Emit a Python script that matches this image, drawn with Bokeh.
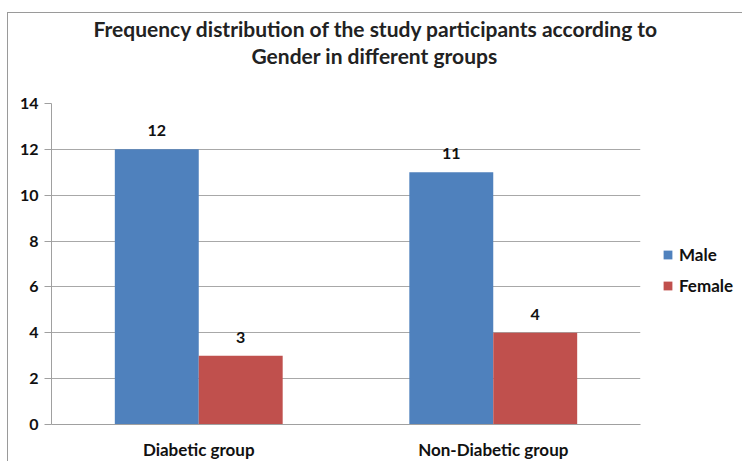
from bokeh.plotting import figure
from bokeh.models import (ColumnDataSource, FactorRange, FixedTicker, Legend, LegendItem,
                          LabelSet, Title)
from bokeh.core.properties import value
from bokeh.transform import dodge
from bokeh.embed import file_html
from bokeh.resources import INLINE

groups = ["Diabetic group", "Non-Diabetic group"]
male = [12, 11]
female = [3, 4]
series = ["Male", "Female"]
colors = ["#4F81BD", "#C0504D"]
title_lines = ["Frequency distribution of the study participants according to",
               "Gender in different groups"]
yticks = [0, 2, 4, 6, 8, 10, 12, 14]

src = ColumnDataSource(dict(groups=groups, male=male, female=female,
                            male_txt=[str(v) for v in male],
                            female_txt=[str(v) for v in female]))

FONT = "Lato"
LBL = "16px"
LBL2 = "17px"

p = figure(frame_width=589, frame_height=321, x_range=FactorRange(*groups, range_padding=0),
           y_range=(0, 14), output_backend="svg", toolbar_location=None,
           min_border_left=43, min_border_right=102, min_border_top=90, min_border_bottom=34)
p.title = None
p.styles = {"border-left": "1px solid #9a9a9a", "border-top": "1px solid #9a9a9a",
            "margin-left": "7px", "margin-top": "12px"}

spacer = Title(text=" ", text_font_size="2px", standoff=32)
t2 = Title(text=title_lines[1], align="left", vertical_align="bottom", text_font=FONT,
           text_font_size="21px", text_font_style="bold", text_color="#222222",
           offset=200, standoff=0)
t1 = Title(text=title_lines[0], align="left", vertical_align="bottom", text_font=FONT,
           text_font_size="21px", text_font_style="bold", text_color="#222222",
           offset=42, standoff=0)
p.add_layout(spacer, "above")
p.add_layout(t2, "above")
p.add_layout(t1, "above")

w = 0.285
r1 = p.vbar(x=dodge("groups", -w / 2, range=p.x_range), top="male", width=w, source=src,
            fill_color=colors[0], line_color=None)
r2 = p.vbar(x=dodge("groups", w / 2, range=p.x_range), top="female", width=w, source=src,
            fill_color=colors[1], line_color=None)

for col, txt, off in (("male", "male_txt", -w / 2), ("female", "female_txt", w / 2)):
    lab = LabelSet(x=dodge("groups", off, range=p.x_range), y=col, text=txt, source=src,
                   text_align="center", text_baseline="bottom", y_offset=13,
                   text_font=value(FONT), text_font_size=value(LBL),
                   text_font_style=value("bold"), text_color="#111111")
    p.add_layout(lab)

legend = Legend(items=[LegendItem(label=series[0], renderers=[r1]),
                       LegendItem(label=series[1], renderers=[r2])],
                location=(22, 128), border_line_color=None, background_fill_alpha=0,
                label_text_font=FONT, label_text_font_size=LBL2, label_text_font_style="bold",
                label_text_color="#111111", glyph_width=11, glyph_height=11, spacing=10,
                label_standoff=6, margin=0, padding=4)
p.add_layout(legend, "right")

p.yaxis.ticker = FixedTicker(ticks=yticks)
p.yaxis.major_label_text_font = FONT
p.yaxis.major_label_text_font_size = LBL
p.yaxis.major_label_text_font_style = "bold"
p.yaxis.major_label_text_color = "#111111"
p.yaxis.axis_line_color = "#a0a0a0"
p.yaxis.major_tick_line_color = "#a0a0a0"
p.yaxis.major_tick_out = 7
p.yaxis.major_tick_in = 0
p.yaxis.minor_tick_line_color = None
p.yaxis.major_label_standoff = 6

p.xaxis.major_label_text_font = FONT
p.xaxis.major_label_text_font_size = LBL2
p.xaxis.major_label_text_font_style = "bold"
p.xaxis.major_label_text_color = "#111111"
p.xaxis.axis_line_color = "#a0a0a0"
p.xaxis.major_tick_line_color = None
p.xaxis.minor_tick_line_color = None
p.xaxis.major_label_standoff = 8

p.xgrid.grid_line_color = None
p.ygrid.grid_line_color = "#a8a8a8"
p.outline_line_color = None

open("out.html", "w").write(file_html(p, INLINE))
